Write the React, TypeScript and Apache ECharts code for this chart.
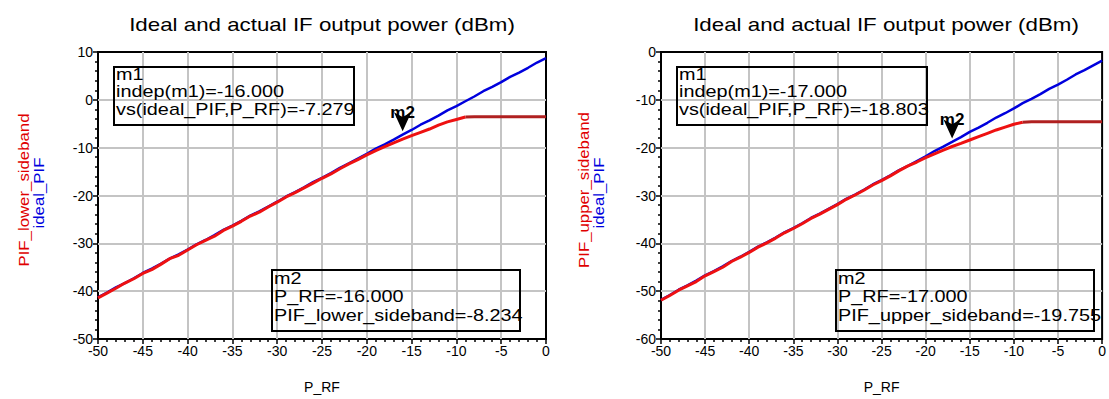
import React, { useEffect, useRef } from "react";
import * as echarts from "echarts";

// P_RF sweep (dBm)
const pRF = [
  -50, -49, -48, -47, -46, -45, -44, -43, -42, -41,
  -40, -39, -38, -37, -36, -35, -34, -33, -32, -31,
  -30, -29, -28, -27, -26, -25, -24, -23, -22, -21,
  -20, -19, -18, -17, -16, -15, -14, -13, -12, -11,
  -10, -9, -8, -7, -6, -5, -4, -3, -2, -1, 0,
];

// Left chart: ideal_PIF and PIF_lower_sideband
const idealLower = [
  -41.3, -40.3, -39.2, -38.3, -37.3, -36.2, -35.3, -34.3, -33.2, -32.3,
  -31.3, -30.2, -29.3, -28.3, -27.2, -26.3, -25.3, -24.2, -23.3, -22.3,
  -21.3, -20.2, -19.3, -18.3, -17.2, -16.3, -15.3, -14.2, -13.3, -12.3,
  -11.3, -10.2, -9.3, -8.3, -7.279, -6.3, -5.2, -4.3, -3.3, -2.2,
  -1.3, -0.3, 0.7, 1.8, 2.7, 3.7, 4.8, 5.7, 6.7, 7.8, 8.7,
];
const pifLower = [
  -41.4, -40.4, -39.4, -38.3, -37.4, -36.3, -35.5, -34.4, -33.2, -32.5,
  -31.4, -30.3, -29.4, -28.5, -27.3, -26.4, -25.4, -24.3, -23.5, -22.4,
  -21.4, -20.3, -19.4, -18.4, -17.4, -16.4, -15.5, -14.4, -13.4, -12.5,
  -11.5, -10.6, -9.8, -9.0, -8.234, -7.5, -6.8, -6.1, -5.3, -4.6,
  -4.1, -3.6, -3.55, -3.55, -3.55, -3.55, -3.55, -3.55, -3.55, -3.55, -3.55,
];

// Right chart: ideal_PIF and PIF_upper_sideband
const idealUpper = [
  -51.8, -50.8, -49.7, -48.8, -47.8, -46.7, -45.8, -44.8, -43.7, -42.8,
  -41.8, -40.7, -39.8, -38.8, -37.7, -36.8, -35.8, -34.7, -33.8, -32.8,
  -31.8, -30.7, -29.8, -28.8, -27.7, -26.8, -25.8, -24.7, -23.8, -22.8,
  -21.8, -20.7, -19.8, -18.803, -17.8, -16.7, -15.8, -14.8, -13.7, -12.8,
  -11.8, -10.7, -9.8, -8.8, -7.7, -6.8, -5.8, -4.7, -3.8, -2.8, -1.8,
];
const pifUpper = [
  -51.9, -50.9, -49.8, -48.9, -48.0, -46.8, -45.9, -45.0, -43.8, -42.9,
  -41.9, -40.8, -39.9, -38.9, -37.8, -36.9, -35.9, -34.8, -33.9, -32.9,
  -31.9, -30.8, -29.9, -28.9, -27.8, -26.9, -25.9, -24.8, -23.8, -23.0,
  -22.1, -21.3, -20.5, -19.755, -19.1, -18.4, -17.7, -17.0, -16.3, -15.7,
  -15.1, -14.7, -14.6, -14.6, -14.6, -14.6, -14.6, -14.6, -14.6, -14.6, -14.6,
];

// grid line positions (interior ticks)
const xGridTicks = [-45, -40, -35, -30, -25, -20, -15, -10, -5];
const yGridTicksLeft = [0, -10, -20, -30, -40];
const yGridTicksRight = [-10, -20, -30, -40, -50];

// saturated (flat) part of the sideband traces drawn in a darker red from this P_RF on
const saturationStart = -9;

const markerLower = { x: -16, y: -8.234 };
const markerUpper = { x: -17, y: -19.755 };

const TITLE = "Ideal and actual IF output power (dBm)";
const boxLeftM1 = ["m1", "indep(m1)=-16.000", "vs(ideal_PIF,P_RF)=-7.279"];
const boxLeftM2 = ["m2", "P_RF=-16.000", "PIF_lower_sideband=-8.234"];
const boxRightM1 = ["m1", "indep(m1)=-17.000", "vs(ideal_PIF,P_RF)=-18.803"];
const boxRightM2 = ["m2", "P_RF=-17.000", "PIF_upper_sideband=-19.755"];

const FONT = "Liberation Sans, Arial, sans-serif";
const RED = "#ee1111";
const DARKRED = "#b02020";
const BLUE = "#0000dd";
const GRID = "#c4c4c4";

function pairs(xs: number[], ys: number[]) {
  return xs.map((x, i) => [x, ys[i]]);
}

function xAxisCfg(gridIndex: number) {
  return {
    gridIndex,
    type: "value",
    min: -50,
    max: 0,
    interval: 5,
    name: "P_RF",
    nameLocation: "middle",
    nameGap: 41,
    nameTextStyle: { fontFamily: FONT, fontSize: 14, color: "#000" },
    axisLine: { show: true, onZero: false, lineStyle: { color: "#000", width: 2 } },
    axisTick: { show: true, inside: false, length: 5, lineStyle: { color: "#000", width: 1.5 } },
    minorTick: { show: true, splitNumber: 5, length: 3, lineStyle: { color: "#000", width: 1.5 } },
    axisLabel: { fontFamily: FONT, fontSize: 14, color: "#000", margin: 5 },
    splitLine: { show: false },
  };
}

function yAxisCfg(gridIndex: number, min: number, max: number) {
  return {
    gridIndex,
    type: "value",
    min,
    max,
    interval: 10,
    axisLine: { show: true, onZero: false, lineStyle: { color: "#000", width: 2 } },
    axisTick: { show: true, inside: false, length: 5, lineStyle: { color: "#000", width: 1.5 } },
    minorTick: { show: true, splitNumber: 5, length: 3, lineStyle: { color: "#000", width: 1.5 } },
    axisLabel: { fontFamily: FONT, fontSize: 14, color: "#000", margin: 5 },
    splitLine: { show: false },
  };
}

function gridMarkLine(yTicks: number[]) {
  return {
    silent: true,
    animation: false,
    z: 1,
    symbol: ["none", "none"],
    label: { show: false },
    emphasis: { disabled: true },
    lineStyle: { color: GRID, width: 2, type: "solid" },
    data: [
      ...xGridTicks.map((v) => ({ xAxis: v })),
      ...yTicks.map((v) => ({ yAxis: v })),
    ],
  };
}

function markPointCfg(m: { x: number; y: number }) {
  return {
    silent: true,
    animation: false,
    data: [
      {
        coord: [m.x, m.y],
        symbol: "arrow",
        symbolSize: [13, 19],
        symbolRotate: 180,
        symbolOffset: [0, -8],
        itemStyle: { color: "#000" },
        label: { show: false },
      },
      {
        coord: [m.x, m.y],
        symbol: "rect",
        symbolSize: 1,
        itemStyle: { color: "rgba(0,0,0,0)" },
        label: {
          show: true,
          position: "inside",
          offset: [0, -27],
          formatter: "m2",
          fontFamily: FONT,
          fontSize: 17,
          fontWeight: "bold",
          color: "#000",
        },
      },
    ],
  };
}

function boxGraphics(lines: string[], x0: number, y0: number, x1: number, y1: number, lineYs: number[]) {
  const els: any[] = [
    {
      type: "rect",
      shape: { x: x0, y: y0, width: x1 - x0, height: y1 - y0 },
      style: { fill: "rgba(0,0,0,0)", stroke: "#000", lineWidth: 2 },
      z: 100,
    },
  ];
  lines.forEach((t, i) => {
    els.push({
      type: "text",
      x: x0 + 2,
      y: lineYs[i],
      scaleX: 1.24,
      style: { text: t, font: `16px ${FONT}`, fill: "#000", align: "left", verticalAlign: "middle" },
      z: 100,
    });
  });
  return els;
}

export default function App() {
  const ref = useRef<HTMLDivElement>(null);

  useEffect(() => {
    if (!ref.current) return;
    const chart = echarts.init(ref.current, undefined, { renderer: "svg" });

    const lowerAll = pairs(pRF, pifLower);
    const upperAll = pairs(pRF, pifUpper);

    const graphic: any[] = [
      {
        type: "text",
        x: 322,
        y: 25,
        scaleX: 1.24,
        style: { text: TITLE, font: `18px ${FONT}`, fill: "#000", align: "center", verticalAlign: "middle" },
      },
      {
        type: "text",
        x: 886,
        y: 25,
        scaleX: 1.24,
        style: { text: TITLE, font: `18px ${FONT}`, fill: "#000", align: "center", verticalAlign: "middle" },
      },
      {
        type: "text",
        x: 24,
        y: 190,
        rotation: Math.PI / 2,
        scaleX: 1.2,
        style: { text: "PIF_lower_sideband", font: `14px ${FONT}`, fill: "#e00000", align: "center", verticalAlign: "middle" },
      },
      {
        type: "text",
        x: 39,
        y: 193,
        rotation: Math.PI / 2,
        scaleX: 1.2,
        style: { text: "ideal_PIF", font: `14px ${FONT}`, fill: BLUE, align: "center", verticalAlign: "middle" },
      },
      {
        type: "text",
        x: 584,
        y: 190,
        rotation: Math.PI / 2,
        scaleX: 1.2,
        style: { text: "PIF_upper_sideband", font: `14px ${FONT}`, fill: "#e00000", align: "center", verticalAlign: "middle" },
      },
      {
        type: "text",
        x: 599,
        y: 193,
        rotation: Math.PI / 2,
        scaleX: 1.2,
        style: { text: "ideal_PIF", font: `14px ${FONT}`, fill: BLUE, align: "center", verticalAlign: "middle" },
      },
      ...boxGraphics(boxLeftM1, 114, 67, 354, 125, [75, 92, 110]),
      ...boxGraphics(boxLeftM2, 272, 270, 520, 331, [279, 297, 316]),
      ...boxGraphics(boxRightM1, 677, 67, 927, 125, [75, 92, 110]),
      ...boxGraphics(boxRightM2, 836, 270, 1094, 331, [279, 297, 316]),
    ];

    const lineBase = { type: "line", showSymbol: false, silent: true };

    chart.setOption({
      animation: false,
      backgroundColor: "#fff",
      grid: [
        { left: 98, right: 563, top: 52, bottom: 54, show: true, borderColor: "#000", borderWidth: 2, backgroundColor: "transparent" },
        { left: 661, right: 2, top: 52, bottom: 55, show: true, borderColor: "#000", borderWidth: 2, backgroundColor: "transparent" },
      ],
      xAxis: [xAxisCfg(0), xAxisCfg(1)],
      yAxis: [yAxisCfg(0, -50, 10), yAxisCfg(1, -60, 0)],
      series: [
        {
          ...lineBase,
          name: "ideal_PIF",
          xAxisIndex: 0,
          yAxisIndex: 0,
          data: pairs(pRF, idealLower),
          lineStyle: { color: BLUE, width: 2.5 },
          itemStyle: { color: BLUE },
          z: 2,
          markLine: gridMarkLine(yGridTicksLeft),
        },
        {
          ...lineBase,
          name: "PIF_lower_sideband",
          xAxisIndex: 0,
          yAxisIndex: 0,
          data: lowerAll.filter((p) => p[0] <= saturationStart),
          lineStyle: { color: RED, width: 3 },
          itemStyle: { color: RED },
          z: 3,
          markPoint: markPointCfg(markerLower),
        },
        {
          ...lineBase,
          name: "PIF_lower_sideband (saturated)",
          xAxisIndex: 0,
          yAxisIndex: 0,
          data: lowerAll.filter((p) => p[0] >= saturationStart),
          lineStyle: { color: DARKRED, width: 3 },
          itemStyle: { color: DARKRED },
          z: 3,
        },
        {
          ...lineBase,
          name: "ideal_PIF",
          xAxisIndex: 1,
          yAxisIndex: 1,
          data: pairs(pRF, idealUpper),
          lineStyle: { color: BLUE, width: 2.5 },
          itemStyle: { color: BLUE },
          z: 2,
          markLine: gridMarkLine(yGridTicksRight),
        },
        {
          ...lineBase,
          name: "PIF_upper_sideband",
          xAxisIndex: 1,
          yAxisIndex: 1,
          data: upperAll.filter((p) => p[0] <= saturationStart),
          lineStyle: { color: RED, width: 3 },
          itemStyle: { color: RED },
          z: 3,
          markPoint: markPointCfg(markerUpper),
        },
        {
          ...lineBase,
          name: "PIF_upper_sideband (saturated)",
          xAxisIndex: 1,
          yAxisIndex: 1,
          data: upperAll.filter((p) => p[0] >= saturationStart),
          lineStyle: { color: DARKRED, width: 3 },
          itemStyle: { color: DARKRED },
          z: 3,
        },
      ],
      graphic,
    });

    return () => chart.dispose();
  }, []);

  return (
    <div
      ref={ref}
      style={{ position: "fixed", left: 0, top: 0, width: 1109, height: 399, background: "#fff" }}
    />
  );
}
